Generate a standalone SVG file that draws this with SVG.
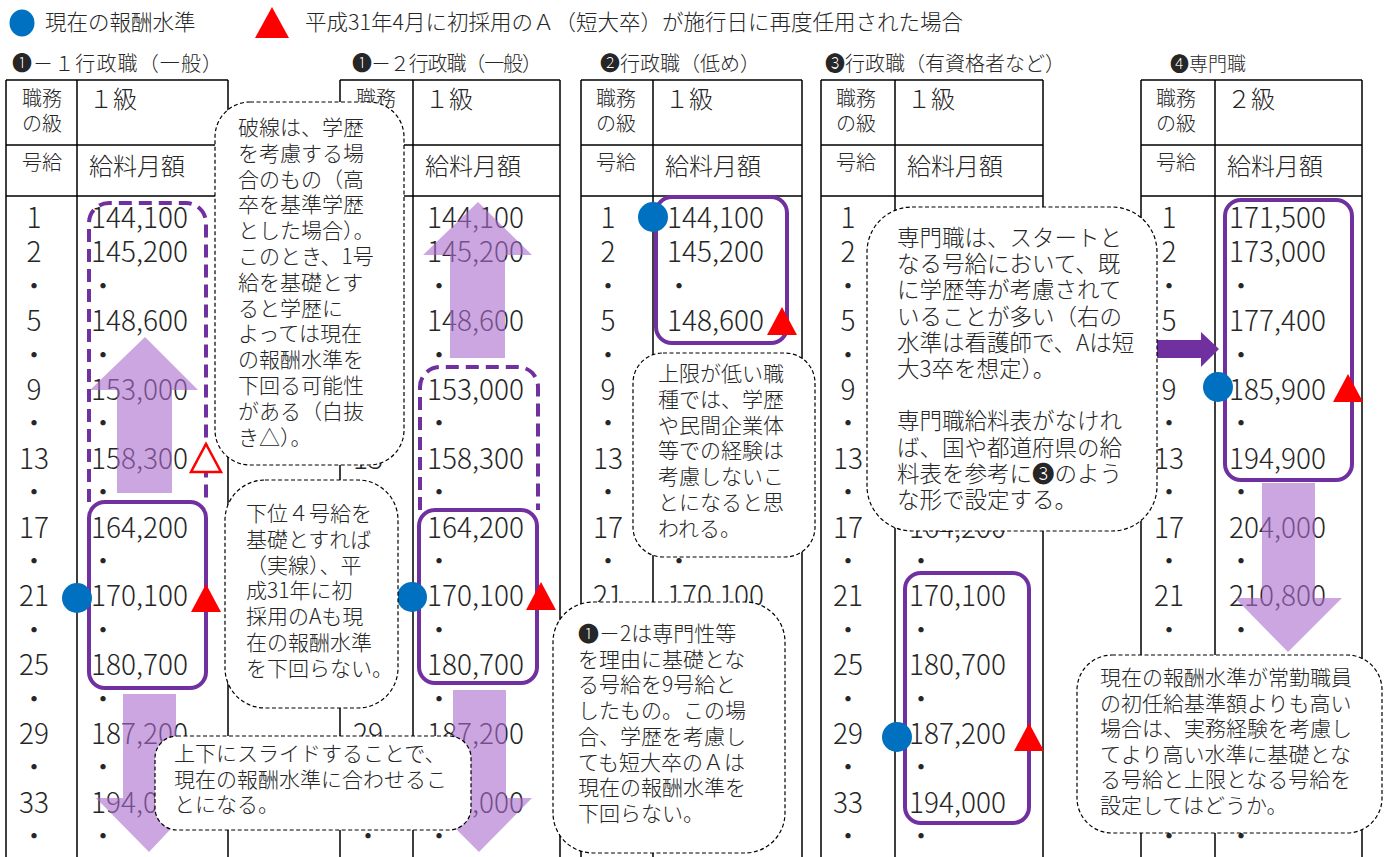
<svg xmlns="http://www.w3.org/2000/svg" width="1385" height="857" viewBox="0 0 1385 857">
<style>
text{font-family:"Noto Sans CJK JP","Noto Sans",sans-serif;fill:#262626;font-weight:300}
.grid{fill:none;stroke:#000;stroke-width:1.5}
.ttl{font-size:20px}
.h1{font-size:20px}
.h2{font-size:24px}
.n{font-size:28px}
.m{text-anchor:middle}
.lg{font-size:21.5px}
.co rect{fill:#fff;stroke:#000;stroke-width:1.2;stroke-dasharray:4 2.5}
.co text{font-size:21px}
.slide{fill:#A86BCB;fill-opacity:.6}
.box{fill:none;stroke:#7030A0;stroke-width:4}
.dash{fill:none;stroke:#7030A0;stroke-width:4;stroke-dasharray:13 7}
.cur{fill:#0070C0}
.tri{fill:#FF0000}
</style>
<rect width="1385" height="857" fill="#fff"/>

<g id="legend">
<ellipse class="cur" cx="22" cy="23" rx="12.5" ry="13.5"/>
<text class="lg" x="45" y="30">現在の報酬水準</text>
<polygon class="tri" points="272,7 289,38 255,38"/>
<text class="lg" x="305" y="30">平成31年4月に初採用のＡ（短大卒）が施行日に再度任用された場合</text>
</g>

<g id="table-1-1">
<path class="grid" d="M6,80H228M6,145H228M6,196H228M6,80V857M77,80V857M228,80V857"/>
<text class="ttl" x="12" y="71" textLength="210">❶－１行政職（一般）</text>
<text class="h1" x="22" y="106">職務</text>
<text class="h1" x="22" y="131">の級</text>
<text class="h2" x="89" y="108">１級</text>
<text class="h1" x="22" y="170">号給</text>
<text class="h2" x="89" y="175">給料月額</text>
<text class="n m"><tspan x="34" y="228">1</tspan><tspan x="34" y="262.4">2</tspan><tspan x="34" y="296.8">・</tspan><tspan x="34" y="331.2">5</tspan><tspan x="34" y="365.6">・</tspan><tspan x="34" y="400">9</tspan><tspan x="34" y="434.4">・</tspan><tspan x="34" y="468.8">13</tspan><tspan x="34" y="503.2">・</tspan><tspan x="34" y="537.6">17</tspan><tspan x="34" y="572">・</tspan><tspan x="34" y="606.4">21</tspan><tspan x="34" y="640.8">・</tspan><tspan x="34" y="675.2">25</tspan><tspan x="34" y="709.6">・</tspan><tspan x="34" y="744">29</tspan><tspan x="34" y="778.4">・</tspan><tspan x="34" y="812.8">33</tspan><tspan x="34" y="847.2">・</tspan></text>
<text class="n"><tspan x="91" y="228">144,100</tspan><tspan x="91" y="262.4">145,200</tspan><tspan x="91" y="331.2">148,600</tspan><tspan x="91" y="400">153,000</tspan><tspan x="91" y="468.8">158,300</tspan><tspan x="91" y="537.6">164,200</tspan><tspan x="91" y="606.4">170,100</tspan><tspan x="91" y="675.2">180,700</tspan><tspan x="91" y="744">187,200</tspan><tspan x="91" y="812.8">194,000</tspan></text>
<text class="n m"><tspan x="103" y="296.8">・</tspan><tspan x="103" y="365.6">・</tspan><tspan x="103" y="434.4">・</tspan><tspan x="103" y="503.2">・</tspan><tspan x="103" y="572">・</tspan><tspan x="103" y="640.8">・</tspan><tspan x="103" y="709.6">・</tspan><tspan x="103" y="778.4">・</tspan><tspan x="103" y="847.2">・</tspan></text>
</g>

<g id="table-1-2">
<path class="grid" d="M340,80H560M340,145H560M340,196H560M340,80V857M413,80V857M560,80V857"/>
<text class="ttl" x="352" y="71" textLength="190">❶－２行政職（一般）</text>
<text class="h1" x="356" y="106">職務</text>
<text class="h2" x="425" y="108">１級</text>
<text class="h2" x="425" y="175">給料月額</text>
<text class="n m"><tspan x="368" y="468.8">13</tspan><tspan x="368" y="744">29</tspan><tspan x="368" y="847.2">・</tspan></text>
<text class="n"><tspan x="427" y="228">144,100</tspan><tspan x="427" y="262.4">145,200</tspan><tspan x="427" y="331.2">148,600</tspan><tspan x="427" y="400">153,000</tspan><tspan x="427" y="468.8">158,300</tspan><tspan x="427" y="537.6">164,200</tspan><tspan x="427" y="606.4">170,100</tspan><tspan x="427" y="675.2">180,700</tspan><tspan x="427" y="744">187,200</tspan><tspan x="427" y="812.8">194,000</tspan></text>
<text class="n m"><tspan x="439" y="296.8">・</tspan><tspan x="439" y="365.6">・</tspan><tspan x="439" y="434.4">・</tspan><tspan x="439" y="503.2">・</tspan><tspan x="439" y="572">・</tspan><tspan x="439" y="640.8">・</tspan><tspan x="439" y="709.6">・</tspan><tspan x="439" y="847.2">・</tspan></text>
</g>

<g id="table-2">
<path class="grid" d="M581,80H802M581,145H802M581,196H802M581,80V857M653,80V857M802,80V857"/>
<text class="ttl" x="600" y="71">❷行政職（低め）</text>
<text class="h1" x="596" y="106">職務</text>
<text class="h1" x="596" y="131">の級</text>
<text class="h2" x="665" y="108">１級</text>
<text class="h1" x="596" y="170">号給</text>
<text class="h2" x="665" y="175">給料月額</text>
<text class="n m"><tspan x="608" y="228">1</tspan><tspan x="608" y="262.4">2</tspan><tspan x="608" y="296.8">・</tspan><tspan x="608" y="331.2">5</tspan><tspan x="608" y="365.6">・</tspan><tspan x="608" y="400">9</tspan><tspan x="608" y="434.4">・</tspan><tspan x="608" y="468.8">13</tspan><tspan x="608" y="503.2">・</tspan><tspan x="608" y="537.6">17</tspan><tspan x="608" y="572">・</tspan><tspan x="608" y="606.4">21</tspan></text>
<text class="n"><tspan x="667" y="228">144,100</tspan><tspan x="667" y="262.4">145,200</tspan><tspan x="667" y="331.2">148,600</tspan><tspan x="667" y="606.4">170,100</tspan></text>
<text class="n m"><tspan x="679" y="296.8">・</tspan><tspan x="679" y="572">・</tspan></text>
</g>

<g id="table-3">
<path class="grid" d="M821,80H1043M821,145H1043M821,196H1043M821,80V857M895,80V857M1043,80V857"/>
<text class="ttl" x="825" y="71">❸行政職（有資格者など）</text>
<text class="h1" x="836" y="106">職務</text>
<text class="h1" x="836" y="131">の級</text>
<text class="h2" x="907" y="108">１級</text>
<text class="h1" x="836" y="170">号給</text>
<text class="h2" x="907" y="175">給料月額</text>
<text class="n m"><tspan x="848" y="228">1</tspan><tspan x="848" y="262.4">2</tspan><tspan x="848" y="296.8">・</tspan><tspan x="848" y="331.2">5</tspan><tspan x="848" y="365.6">・</tspan><tspan x="848" y="400">9</tspan><tspan x="848" y="434.4">・</tspan><tspan x="848" y="468.8">13</tspan><tspan x="848" y="503.2">・</tspan><tspan x="848" y="537.6">17</tspan><tspan x="848" y="572">・</tspan><tspan x="848" y="606.4">21</tspan><tspan x="848" y="640.8">・</tspan><tspan x="848" y="675.2">25</tspan><tspan x="848" y="709.6">・</tspan><tspan x="848" y="744">29</tspan><tspan x="848" y="778.4">・</tspan><tspan x="848" y="812.8">33</tspan><tspan x="848" y="847.2">・</tspan></text>
<text class="n"><tspan x="909" y="537.6">164,200</tspan><tspan x="909" y="606.4">170,100</tspan><tspan x="909" y="675.2">180,700</tspan><tspan x="909" y="744">187,200</tspan><tspan x="909" y="812.8">194,000</tspan></text>
<text class="n m"><tspan x="921" y="572">・</tspan><tspan x="921" y="640.8">・</tspan><tspan x="921" y="709.6">・</tspan><tspan x="921" y="778.4">・</tspan><tspan x="921" y="847.2">・</tspan></text>
</g>

<g id="table-4">
<path class="grid" d="M1141,80H1362M1141,145H1362M1141,196H1362M1141,80V857M1215,80V857M1362,80V857"/>
<text class="ttl" x="1170" y="71" style="font-size:19px">❹専門職</text>
<text class="h1" x="1156" y="106">職務</text>
<text class="h1" x="1156" y="131">の級</text>
<text class="h2" x="1227" y="108">２級</text>
<text class="h1" x="1156" y="170">号給</text>
<text class="h2" x="1227" y="175">給料月額</text>
<text class="n m"><tspan x="1169" y="228">1</tspan><tspan x="1169" y="262.4">2</tspan><tspan x="1169" y="296.8">・</tspan><tspan x="1169" y="331.2">5</tspan><tspan x="1169" y="365.6">・</tspan><tspan x="1169" y="400">9</tspan><tspan x="1169" y="434.4">・</tspan><tspan x="1169" y="468.8">13</tspan><tspan x="1169" y="503.2">・</tspan><tspan x="1169" y="537.6">17</tspan><tspan x="1169" y="572">・</tspan><tspan x="1169" y="606.4">21</tspan><tspan x="1169" y="640.8">・</tspan><tspan x="1169" y="847.2">・</tspan></text>
<text class="n"><tspan x="1229" y="228">171,500</tspan><tspan x="1229" y="262.4">173,000</tspan><tspan x="1229" y="331.2">177,400</tspan><tspan x="1229" y="400">185,900</tspan><tspan x="1229" y="468.8">194,900</tspan><tspan x="1229" y="537.6">204,000</tspan><tspan x="1229" y="606.4">210,800</tspan></text>
<text class="n m"><tspan x="1241" y="296.8">・</tspan><tspan x="1241" y="365.6">・</tspan><tspan x="1241" y="434.4">・</tspan><tspan x="1241" y="503.2">・</tspan><tspan x="1241" y="572">・</tspan><tspan x="1241" y="640.8">・</tspan><tspan x="1241" y="847.2">・</tspan></text>
</g>

<g id="connectors">
<polygon class="slide" points="117,493 117,390 90,390 145,337 198,390 172,390 172,493"/>
<polygon class="slide" points="123,694 176,694 176,798 200,798 149,852 96,798 123,798"/>
<polygon class="slide" points="450,358 450,255 423,255 478,202 532,255 505,255 505,358"/>
<polygon class="slide" points="453,690 506,690 506,798 532,798 479,852 425,798 453,798"/>
<polygon class="slide" points="1262,483 1315,483 1315,598 1342,598 1288,652 1235,598 1262,598"/>
<polygon fill="#7030A0" points="1157,340 1201,340 1201,332 1219,349 1201,367 1201,358 1157,358"/>
</g>

<g id="ranges">
<path class="dash" d="M89,502V223A20,20 0 0 1 109,203H186A20,20 0 0 1 206,223V502"/>
<path class="dash" d="M420,510V387A20,20 0 0 1 440,367H518A20,20 0 0 1 538,387V510"/>
<rect class="box" x="89" y="502" width="117" height="186" rx="16"/>
<rect class="box" x="419" y="510" width="118" height="173" rx="16"/>
<rect class="box" x="656" y="197" width="131" height="146" rx="16"/>
<rect class="box" x="905" y="573" width="124" height="250" rx="16"/>
<rect class="box" x="1225" y="200" width="127" height="280" rx="16"/>
</g>

<g id="markers">
<circle class="cur" cx="77" cy="598" r="15"/>
<circle class="cur" cx="412" cy="597" r="15"/>
<circle class="cur" cx="653" cy="217" r="15"/>
<circle class="cur" cx="897" cy="737" r="15"/>
<circle class="cur" cx="1218" cy="387" r="15"/>
<polygon class="tri" points="206,584 221,612 191,612"/>
<polygon class="tri" points="541,582 556,610 526,610"/>
<polygon class="tri" points="782,307 797,335 767,335"/>
<polygon class="tri" points="1029,723 1044,751 1014,751"/>
<polygon class="tri" points="1348,374 1363,402 1333,402"/>
<polygon points="206,444 221,472 191,472" fill="#fff" stroke="#FF0000" stroke-width="2.5"/>
</g>

<g id="note-1" class="co">
<rect x="215" y="102" width="189" height="363" rx="35"/>
<text><tspan x="238" y="135">破線は、学歴</tspan><tspan x="238" y="160.8">を考慮する場</tspan><tspan x="238" y="186.6">合のもの（高</tspan><tspan x="238" y="212.4">卒を基準学歴</tspan><tspan x="238" y="238.2">とした場合）。</tspan><tspan x="238" y="264">このとき、1号</tspan><tspan x="238" y="289.8">給を基礎とす</tspan><tspan x="238" y="315.6">ると学歴に</tspan><tspan x="238" y="341.4">よっては現在</tspan><tspan x="238" y="367.2">の報酬水準を</tspan><tspan x="238" y="393">下回る可能性</tspan><tspan x="238" y="418.8">がある（白抜</tspan><tspan x="238" y="444.6">き△）。</tspan></text>
</g>

<g id="note-2" class="co">
<rect x="225" y="480" width="173" height="228" rx="40"/>
<text><tspan x="246" y="521">下位４号給を</tspan><tspan x="246" y="546.8">基礎とすれば</tspan><tspan x="246" y="572.6">（実線）、平</tspan><tspan x="246" y="598.4">成31年に初</tspan><tspan x="246" y="624.2">採用のAも現</tspan><tspan x="246" y="650">在の報酬水準</tspan><tspan x="246" y="675.8">を下回らない。</tspan></text>
</g>

<g id="note-3" class="co">
<rect x="155" y="736" width="316" height="94" rx="22"/>
<text><tspan x="174" y="761">上下にスライドすることで、</tspan><tspan x="174" y="787">現在の報酬水準に合わせるこ</tspan><tspan x="174" y="812">とになる。</tspan></text>
</g>

<g id="note-4" class="co">
<rect x="633" y="353" width="182" height="204" rx="30"/>
<text><tspan x="658" y="381">上限が低い職</tspan><tspan x="658" y="406.8">種では、学歴</tspan><tspan x="658" y="432.6">や民間企業体</tspan><tspan x="658" y="458.4">等での経験は</tspan><tspan x="658" y="484.2">考慮しないこ</tspan><tspan x="658" y="510">とになると思</tspan><tspan x="658" y="535.8">われる。</tspan></text>
</g>

<g id="note-5" class="co">
<rect x="867" y="207" width="290" height="324" rx="45"/>
<text style="font-size:22.5px"><tspan x="897" y="246">専門職は、スタートと</tspan><tspan x="897" y="272.2">なる号給において、既</tspan><tspan x="897" y="298.4">に学歴等が考慮されて</tspan><tspan x="897" y="324.6">いることが多い（右の</tspan><tspan x="897" y="350.8">水準は看護師で、Aは短</tspan><tspan x="897" y="377">大3卒を想定）。</tspan><tspan x="897" y="429.4">専門職給料表がなけれ</tspan><tspan x="897" y="455.6">ば、国や都道府県の給</tspan><tspan x="897" y="481.8">料表を参考に❸のよう</tspan><tspan x="897" y="508">な形で設定する。</tspan></text>
</g>

<g id="note-6" class="co">
<rect x="553" y="602" width="232" height="251" rx="40"/>
<text><tspan x="578" y="641">❶－2は専門性等</tspan><tspan x="578" y="666.7">を理由に基礎とな</tspan><tspan x="578" y="692.4">る号給を9号給と</tspan><tspan x="578" y="718.1">したもの。この場</tspan><tspan x="578" y="743.8">合、学歴を考慮し</tspan><tspan x="578" y="769.5">ても短大卒のＡは</tspan><tspan x="578" y="795.2">現在の報酬水準を</tspan><tspan x="578" y="820.9">下回らない。</tspan></text>
</g>

<g id="note-7" class="co">
<rect x="1077" y="655" width="305" height="178" rx="35"/>
<text><tspan x="1100" y="685">現在の報酬水準が常勤職員</tspan><tspan x="1100" y="710.5">の初任給基準額よりも高い</tspan><tspan x="1100" y="736">場合は、実務経験を考慮し</tspan><tspan x="1100" y="761.5">てより高い水準に基礎とな</tspan><tspan x="1100" y="787">る号給と上限となる号給を</tspan><tspan x="1100" y="812.5">設定してはどうか。</tspan></text>
</g>
</svg>
